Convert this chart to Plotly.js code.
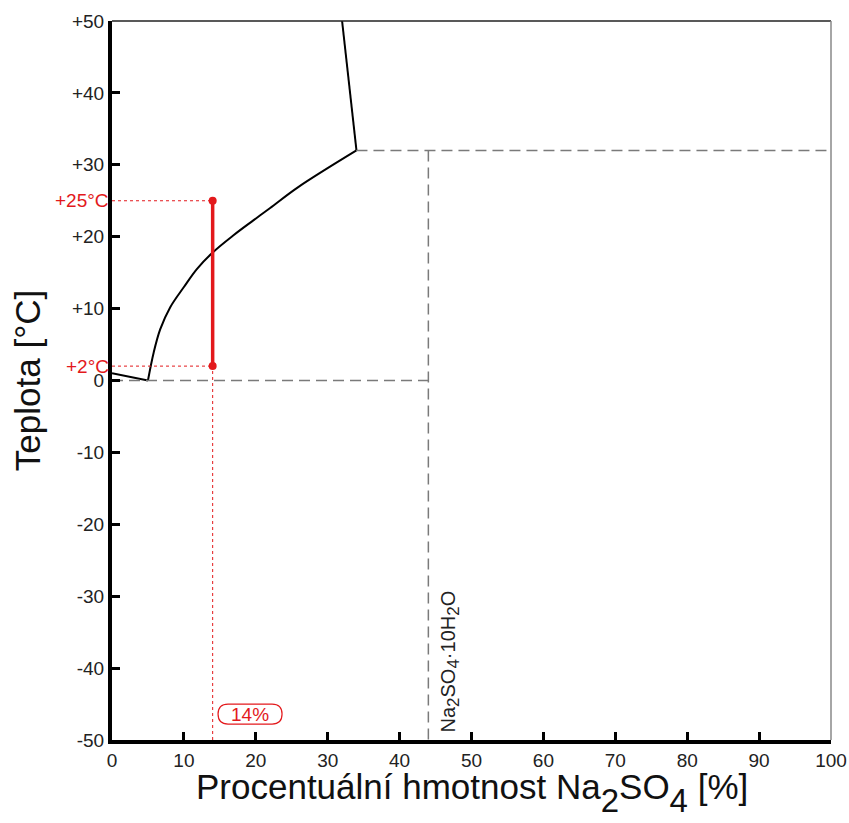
<!DOCTYPE html>
<html>
<head>
<meta charset="utf-8">
<script src="https://cdn.plot.ly/plotly-3.0.1.min.js"></script>
<style>
  html, body { margin: 0; padding: 0; background: #fff; }
  #chart { width: 849px; height: 823px; }
</style>
</head>
<body>
<div id="chart"></div>
<script>
// Phase diagram of the Na2SO4 – H2O system

// ice liquidus (left of the eutectic)
const iceX = [0, 5];
const iceY = [1.0, 0];

// solubility of Na2SO4·10H2O up to the transition point
const decaX = [5, 5.8, 6.7, 8.1, 10, 11.8, 14, 16.9, 19.7, 22, 25.9, 34];
const decaY = [0, 3.9, 7.1, 10.2, 13.0, 15.5, 17.8, 20.2, 22.3, 24.0, 26.9, 32];

// solubility of anhydrous Na2SO4 above the transition point
const anhX = [34, 32];
const anhY = [32, 50];

// phase boundaries (dashed)
const transX = [34, 100];     // transition temperature line
const transY = [32, 32];
const hydrateX = [44, 44];    // composition of the decahydrate
const hydrateY = [32, -50];
const eutX = [0, 44];         // eutectic line
const eutY = [0, 0];

// example solution: 14 % Na2SO4 between +2 °C and +25 °C
const sampleX = [14, 14];
const sampleY = [2, 25];
const sampleLabels = ['+2°C', '+25°C'];
const sampleConc = 14;
const axisMinY = -50;

// axis ticks
const xTicks = [0, 10, 20, 30, 40, 50, 60, 70, 80, 90, 100];
const yTicks = [50, 40, 30, 20, 10, 0, -10, -20, -30, -40, -50];
const yTickText = ['+50', '+40', '+30', '+20', '+10', '0', '-10', '-20', '-30', '-40', '-50'];

const RED = '#e3191c';
const GREY = '#7a7a7a';
const FONT = 'Liberation Sans, Arial, sans-serif';

// position of the concentration tag
const tagX = 19.2;
const tagY = -46.4;

const sub = (t, px, drop) => '<sub><span style="font-size:' + px + 'px' +
  (drop ? ';baseline-shift:-' + drop + 'px' : '') + '">' + t + '</span></sub>';

const traces = [
  { x: iceX, y: iceY, mode: 'lines', line: { color: '#000', width: 2 } },
  { x: decaX, y: decaY, mode: 'lines', line: { color: '#000', width: 2, shape: 'spline', smoothing: 1 } },
  { x: anhX, y: anhY, mode: 'lines', line: { color: '#000', width: 2 } },
  { x: transX, y: transY, mode: 'lines', line: { color: GREY, width: 1.5, dash: '11px,6px' } },
  { x: hydrateX, y: hydrateY, mode: 'lines', line: { color: GREY, width: 1.5, dash: '11px,6px' } },
  { x: eutX, y: eutY, mode: 'lines', line: { color: GREY, width: 1.5, dash: '11px,6px' } },
  // dotted guides to the axes
  { x: [0, sampleX[1]], y: [sampleY[1], sampleY[1]], mode: 'lines', line: { color: RED, width: 1, dash: 'dot' } },
  { x: [0, sampleX[0]], y: [sampleY[0], sampleY[0]], mode: 'lines', line: { color: RED, width: 1, dash: 'dot' } },
  { x: [sampleConc, sampleConc], y: [axisMinY, sampleY[0]], mode: 'lines', line: { color: RED, width: 1, dash: 'dot' } },
  // the sample itself
  { x: sampleX, y: sampleY, mode: 'lines+markers', line: { color: RED, width: 3.5 }, marker: { color: RED, size: 8 } }
];

const annotations = [
  { x: 0, y: sampleY[1], xref: 'x', yref: 'y', text: sampleLabels[1], showarrow: false,
    xanchor: 'right', yanchor: 'middle', xshift: -1, font: { family: FONT, size: 19, color: RED } },
  { x: 0, y: sampleY[0], xref: 'x', yref: 'y', text: sampleLabels[0], showarrow: false,
    xanchor: 'right', yanchor: 'middle', xshift: -1, font: { family: FONT, size: 19, color: RED } },
  { x: tagX, y: tagY, xref: 'x', yref: 'y', text: sampleConc + '%', showarrow: false,
    font: { family: FONT, size: 19, color: RED } },
  { x: 47, y: -39.1, xref: 'x', yref: 'y', textangle: -90, showarrow: false,
    text: 'Na' + sub('2', 17) + 'SO' + sub('4', 17) + '·10H' + sub('2', 17) + 'O',
    font: { family: FONT, size: 20, color: '#222' } },
  // x axis title, set just under the tick labels
  { x: 0.5, y: 0, xref: 'paper', yref: 'paper', xanchor: 'center', yanchor: 'top', yshift: -25,
    showarrow: false,
    text: 'Procentuální hmotnost Na' + sub('2', 33, 6) + 'SO' + sub('4', 33, 6) + ' [%]',
    font: { family: FONT, size: 35, color: '#111' } }
];

const layout = {
  width: 849, height: 823,
  margin: { l: 112, r: 18, t: 21, b: 83 },
  paper_bgcolor: '#fff', plot_bgcolor: '#fff',
  showlegend: false,
  font: { family: FONT, color: '#111' },
  xaxis: {
    range: [0, 100], tickvals: xTicks, ticktext: xTicks.map(String),
    showgrid: false, zeroline: false,
    showline: true, linecolor: '#000', linewidth: 4,
    ticks: 'inside', ticklen: 8, tickwidth: 3, tickcolor: '#000',
    tickfont: { family: FONT, size: 19, color: '#222' }
  },
  yaxis: {
    range: [-50, 50], tickvals: yTicks, ticktext: yTickText,
    showgrid: false, zeroline: false,
    showline: true, linecolor: '#000', linewidth: 4,
    ticks: 'inside', ticklen: 8, tickwidth: 3, tickcolor: '#000',
    tickfont: { family: FONT, size: 19, color: '#222' },
    title: { text: 'Teplota [°C]', font: { family: FONT, size: 35, color: '#111' }, standoff: 22 }
  },
  shapes: [
    // frame on top and right
    { type: 'line', xref: 'paper', yref: 'paper', x0: 0, x1: 1, y0: 1, y1: 1, line: { color: '#222', width: 1.5 } },
    { type: 'line', xref: 'paper', yref: 'paper', x0: 1, x1: 1, y0: 0, y1: 1, line: { color: '#888', width: 1.5 } },
    // rounded tag around the concentration label (pixel-sized, anchored at the label)
    { type: 'path', xref: 'x', yref: 'y', xsizemode: 'pixel', ysizemode: 'pixel',
      xanchor: tagX, yanchor: tagY,
      path: 'M -22,10 L 22,10 Q 32,10 32,0 Q 32,-10 22,-10 L -22,-10 Q -32,-10 -32,0 Q -32,10 -22,10 Z',
      line: { color: RED, width: 1.2 }, fillcolor: 'rgba(0,0,0,0)' }
  ],
  annotations: annotations
};

Plotly.newPlot('chart', traces, layout, { displayModeBar: false, staticPlot: true });
</script>
</body>
</html>
